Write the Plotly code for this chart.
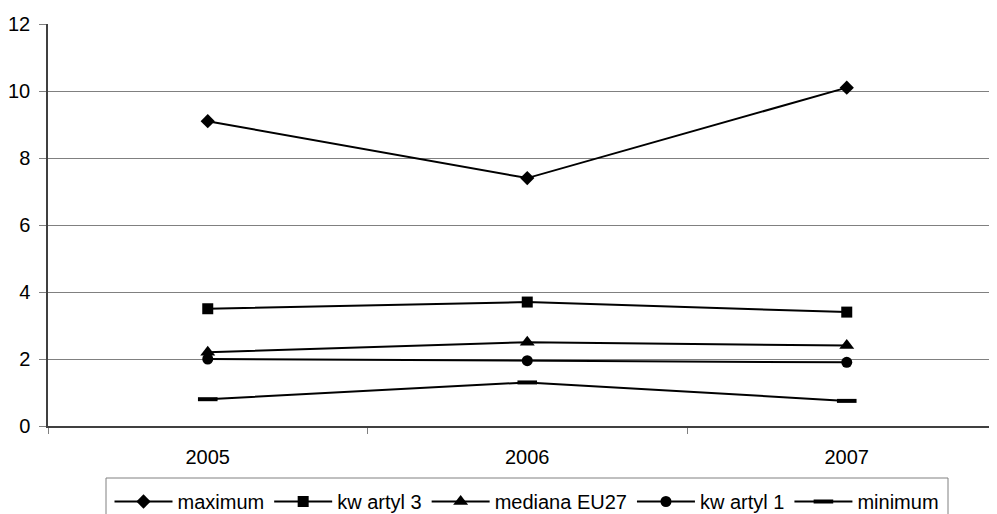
import plotly.graph_objects as go

years = ["2005", "2006", "2007"]
maximum = [9.1, 7.4, 10.1]
kwartyl3 = [3.5, 3.7, 3.4]
mediana = [2.2, 2.5, 2.4]
kwartyl1 = [2.0, 1.95, 1.9]
minimum = [0.8, 1.3, 0.75]
y_ticks = [0, 2, 4, 6, 8, 10, 12]

series = [
    ("maximum", maximum, dict(symbol="diamond", size=11, color="black")),
    ("kw artyl 3", kwartyl3, dict(symbol="square", size=11, color="black")),
    ("mediana EU27", mediana, dict(symbol="triangle-up", size=13, color="black")),
    ("kw artyl 1", kwartyl1, dict(symbol="circle", size=11, color="black")),
    ("minimum", minimum, dict(symbol="line-ew", size=14, color="black",
                              line=dict(color="black", width=4))),
]

fig = go.Figure()
for name, vals, mk in series:
    fig.add_trace(go.Scatter(
        x=years, y=vals, name=name, mode="lines+markers",
        line=dict(color="black", width=2), marker=mk,
    ))

# page has an 8px body margin: work in page pixels, convert to figure pixels
OFF = 8
W, H = 997 - OFF, 514 - OFF
L = 48 - OFF
T = 24 - OFF
B = H - (426 - OFF)
R = 0
pw = W - L - R
ph = H - T - B

def px_x(p):
    return (p - OFF - L) / pw

def px_y(p):
    return (H - B - (p - OFF)) / ph

fig.update_layout(
    width=W, height=H,
    margin=dict(l=L, r=R, t=T, b=B, pad=0, autoexpand=False),
    paper_bgcolor="white", plot_bgcolor="white",
    font=dict(family="Liberation Sans, Arial, sans-serif", size=20, color="black"),
    showlegend=True,
    legend=dict(
        orientation="h", x=px_x(527), xanchor="center",
        y=px_y(482), yanchor="top",
        font=dict(size=20), bgcolor="rgba(0,0,0,0)", borderwidth=0,
        itemwidth=58,
    ),
    shapes=[dict(
        type="rect", xref="paper", yref="paper",
        x0=px_x(106), x1=px_x(948), y0=px_y(478), y1=px_y(545),
        line=dict(color="#808080", width=1), fillcolor="rgba(0,0,0,0)", layer="below",
    )],
)

fig.update_xaxes(
    type="category", range=[-0.5, -0.5 + pw / 319.5],
    tickson="boundaries", ticks="outside", ticklen=6, tickcolor="#808080",
    showgrid=False, showline=True, linecolor="#404040", linewidth=1.5,
    ticklabelstandoff=12, zeroline=False,
)
fig.update_yaxes(
    range=[0, 12], tickvals=y_ticks, ticks="outside", ticklen=7, tickcolor="#808080",
    showgrid=True, gridcolor="#808080", gridwidth=1,
    showline=True, linecolor="#404040", linewidth=1.5, zeroline=False,
    ticklabelstandoff=5,
)

fig.write_html("out.html")
